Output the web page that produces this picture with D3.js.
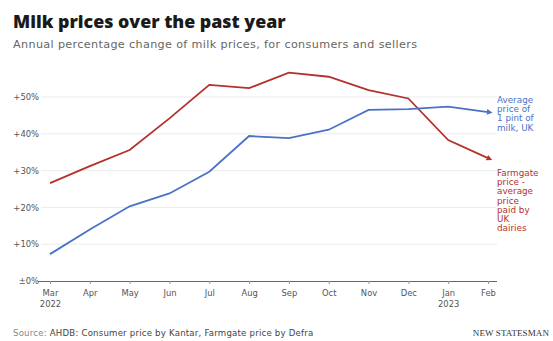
<!DOCTYPE html>
<html>
<head>
<meta charset="utf-8">
<script src="https://cdn.jsdelivr.net/npm/d3@7"></script>
<style>
  html, body { margin: 0; padding: 0; background: #fff; }
  svg { display: block; font-family: "DejaVu Sans", sans-serif; }
</style>
</head>
<body>
<svg id="chart" width="553" height="341"></svg>
<script>
// Months on the x axis (March 2022 to February 2023)
const months = ["Mar", "Apr", "May", "Jun", "Jul", "Aug", "Sep", "Oct", "Nov", "Dec", "Jan", "Feb"];
const yearLabels = { "Mar": "2022", "Jan": "2023" };

// Annual percentage change, consumer price of a pint of milk
const consumerPrice = [7.3, 14.0, 20.3, 23.8, 29.7, 39.4, 38.8, 41.1, 46.5, 46.7, 47.4, 45.9];
// Annual percentage change, farmgate price paid by dairies
const farmgatePrice = [26.6, 31.2, 35.6, 44.2, 53.3, 52.4, 56.6, 55.5, 51.9, 49.6, 38.3, 33.4];

const yTicks = [0, 10, 20, 30, 40, 50];
const yTickLabels = ["±0%", "+10%", "+20%", "+30%", "+40%", "+50%"];

const consumerLabel = ["Average", "price of", "1 pint of", "milk, UK"];
const farmgateLabel = ["Farmgate", "price -", "average", "price", "paid by", "UK", "dairies"];

const BLUE = "#4a72c6";
const RED = "#b5312b";
const BODY_FONT = "'DejaVu Sans', sans-serif";

const svg = d3.select("#chart");

const x = d3.scalePoint().domain(months).range([50, 488]);
const y = d3.scaleLinear().domain([0, 50]).range([281, 97]);

// Title and subtitle
svg.append("text").attr("x", 13).attr("y", 28)
  .attr("font-size", 17.8).attr("font-weight", 800)
  .attr("font-family", "'Open Sans', sans-serif").attr("fill", "#1a1a1a")
  .text("Milk prices over the past year");
svg.append("text").attr("x", 13).attr("y", 48)
  .attr("font-size", 11.2).attr("letter-spacing", 0.35).attr("fill", "#666")
  .text("Annual percentage change of milk prices, for consumers and sellers");

// Horizontal gridlines
svg.append("g").selectAll("line")
  .data(yTicks.filter(d => d !== 0))
  .join("line")
  .attr("x1", 41).attr("x2", 497)
  .attr("y1", d => y(d)).attr("y2", d => y(d))
  .attr("stroke", "#ebebeb").attr("stroke-width", 1);

// Y axis labels
const yAxis = d3.axisLeft(y).tickValues(yTicks)
  .tickFormat((d, i) => yTickLabels[i]).tickSize(0).tickPadding(0);
svg.append("g").attr("transform", "translate(39,0)").call(yAxis)
  .call(g => g.select(".domain").remove())
  .call(g => g.selectAll("text").attr("font-size", 8.4).attr("fill", "#555")
    .attr("font-family", BODY_FONT));

// X axis with baseline
const xAxis = d3.axisBottom(x).tickSize(3).tickPadding(6);
svg.append("g").attr("transform", `translate(0,${y(0)})`).call(xAxis)
  .call(g => g.select(".domain").attr("d", "M38,0.5H497").attr("stroke", "#666"))
  .call(g => g.selectAll(".tick line").attr("stroke", "#999"))
  .call(g => g.selectAll(".tick text").attr("font-size", 8.4).attr("fill", "#555")
    .attr("font-family", BODY_FONT))
  .call(g => g.selectAll(".tick").filter(d => yearLabels[d])
    .append("text").attr("y", 20).attr("dy", "0.71em")
    .attr("text-anchor", "middle").attr("fill", "#555")
    .attr("font-size", 8.4).attr("font-family", BODY_FONT)
    .text(d => yearLabels[d]));

// Arrowhead markers
const defs = svg.append("defs");
[["arrowBlue", BLUE], ["arrowRed", RED]].forEach(([id, c]) => {
  defs.append("marker").attr("id", id)
    .attr("viewBox", "0 0 10 10").attr("refX", 2).attr("refY", 5)
    .attr("markerWidth", 3.2).attr("markerHeight", 3.2).attr("orient", "auto")
    .append("path").attr("d", "M0,0L10,5L0,10Z").attr("fill", c);
});

const line = d3.line().x((d, i) => x(months[i])).y(d => y(d));

svg.append("path").datum(farmgatePrice)
  .attr("d", line).attr("fill", "none")
  .attr("stroke", RED).attr("stroke-width", 1.8)
  .attr("marker-end", "url(#arrowRed)");

svg.append("path").datum(consumerPrice)
  .attr("d", line).attr("fill", "none")
  .attr("stroke", BLUE).attr("stroke-width", 1.8)
  .attr("marker-end", "url(#arrowBlue)");

// Line labels at the right end
function lineLabel(lines, yStart, color) {
  svg.append("text").attr("x", 497).attr("y", yStart)
    .attr("font-size", 8.8).attr("fill", color)
    .selectAll("tspan").data(lines).join("tspan")
    .attr("x", 497).attr("dy", (d, i) => i === 0 ? 0 : 9.2)
    .text(d => d);
}
lineLabel(consumerLabel, 103, BLUE);
lineLabel(farmgateLabel, 176, RED);

// Source line
const src = svg.append("text").attr("x", 13).attr("y", 336).attr("font-size", 8.6)
  .attr("letter-spacing", 0.2);
src.append("tspan").attr("fill", "#888").text("Source: ");
src.append("tspan").attr("fill", "#444").text("AHDB: Consumer price by Kantar, Farmgate price by Defra");

// Publisher wordmark
svg.append("text").attr("x", 549).attr("y", 336).attr("text-anchor", "end")
  .attr("font-size", 9).attr("font-family", "'Liberation Serif', serif")
  .attr("fill", "#333").attr("letter-spacing", 0.1)
  .text("NEW STATESMAN");
</script>
</body>
</html>
